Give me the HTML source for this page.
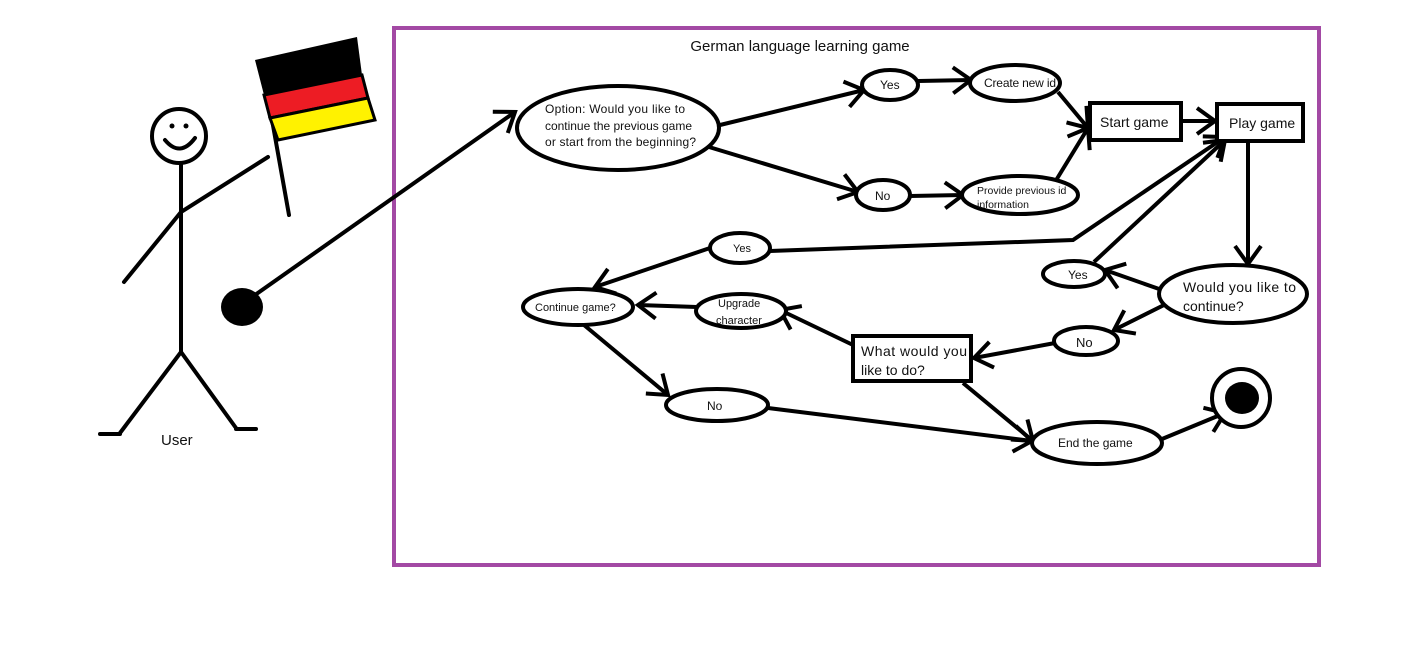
<!DOCTYPE html>
<html><head><meta charset="utf-8"><style>
html,body{margin:0;padding:0;background:#fff;}
svg{display:block;}
text{font-family:"Liberation Sans",sans-serif;fill:#111;}
</style></head><body>
<svg width="1422" height="648" viewBox="0 0 1422 648" xmlns="http://www.w3.org/2000/svg">
<defs>
<marker id="a" markerWidth="30" markerHeight="30" refX="24" refY="15" orient="auto" markerUnits="userSpaceOnUse">
<polyline points="6,2 24,15 6,28" fill="none" stroke="#000" stroke-width="4"/>
</marker>
</defs>
<rect x="394" y="28" width="925" height="537" fill="none" stroke="#a349a4" stroke-width="4"/>
<text x="800" y="51" font-size="15" text-anchor="middle">German language learning game</text>

<g stroke="#000" stroke-width="4" fill="none" stroke-linecap="round">
<circle cx="179" cy="136" r="27"/>
<path d="M165,140 Q180,158 195,138"/>
<line x1="181" y1="163" x2="181" y2="352"/>
<polyline points="124,282 181,212 268,157"/>
<polyline points="120,433 181,352 236,428"/>
<line x1="100" y1="434" x2="120" y2="434"/>
<line x1="236" y1="429" x2="256" y2="429"/>
<line x1="264" y1="75" x2="289" y2="215"/>
</g>
<circle cx="172" cy="126" r="2.5" fill="#000"/><circle cx="186" cy="126" r="2.5" fill="#000"/>
<text x="161" y="445" font-size="15">User</text>
<polygon points="255,60 357,37 362,75 264,95" fill="#000"/>
<polygon points="264,95 362,75 368,98 270,118" fill="#ed1c24" stroke="#000" stroke-width="3"/>
<polygon points="270,118 368,98 375,120 278,140" fill="#fff200" stroke="#000" stroke-width="3"/>

<ellipse cx="242" cy="307" rx="21" ry="19" fill="#000"/>

<g stroke="#000" stroke-width="4" fill="none">
<line x1="255" y1="295" x2="515" y2="112" marker-end="url(#a)"/>
<line x1="720" y1="125" x2="864" y2="90" marker-end="url(#a)"/>
<line x1="709" y1="147" x2="858" y2="192" marker-end="url(#a)"/>
<line x1="918" y1="81" x2="971" y2="80" marker-end="url(#a)"/>
<line x1="910" y1="196" x2="963" y2="195" marker-end="url(#a)"/>
<line x1="1058" y1="92" x2="1088" y2="128" marker-end="url(#a)"/>
<line x1="1055" y1="182" x2="1088" y2="128" marker-end="url(#a)"/>
<line x1="1181" y1="121" x2="1215" y2="121" marker-end="url(#a)"/>
<line x1="1248" y1="141" x2="1248" y2="264" marker-end="url(#a)"/>
<polyline points="770,251 1073,240 1225,137" marker-end="url(#a)"/>
<line x1="1094" y1="262" x2="1225" y2="140" marker-end="url(#a)"/>
<line x1="1162" y1="290" x2="1105" y2="270" marker-end="url(#a)"/>
<line x1="1170" y1="302" x2="1114" y2="330" marker-end="url(#a)"/>
<line x1="1055" y1="343" x2="974" y2="358" marker-end="url(#a)"/>
<line x1="853" y1="345" x2="780" y2="310" marker-end="url(#a)"/>
<line x1="697" y1="307" x2="638" y2="305" marker-end="url(#a)"/>
<line x1="710" y1="248" x2="595" y2="287" marker-end="url(#a)"/>
<line x1="584" y1="325" x2="668" y2="395" marker-end="url(#a)"/>
<line x1="768" y1="408" x2="1032" y2="441" marker-end="url(#a)"/>
<line x1="963" y1="383" x2="1033" y2="441" marker-end="url(#a)"/>
<line x1="1162" y1="439" x2="1225" y2="413" marker-end="url(#a)"/>
</g>

<g stroke="#000" stroke-width="4" fill="#fff">
<ellipse cx="618" cy="128" rx="101" ry="42"/>
<ellipse cx="890" cy="85" rx="28" ry="15"/>
<ellipse cx="1015" cy="83" rx="45" ry="18"/>
<ellipse cx="883" cy="195" rx="27" ry="15"/>
<ellipse cx="1020" cy="195" rx="58" ry="19"/>
<rect x="1090" y="103" width="91" height="37"/>
<rect x="1217" y="104" width="86" height="37"/>
<ellipse cx="1233" cy="294" rx="74" ry="29"/>
<ellipse cx="1074" cy="274" rx="31" ry="13"/>
<ellipse cx="1086" cy="341" rx="32" ry="14"/>
<rect x="853" y="336" width="118" height="45"/>
<ellipse cx="741" cy="311" rx="45" ry="17"/>
<ellipse cx="578" cy="307" rx="55" ry="18"/>
<ellipse cx="740" cy="248" rx="30" ry="15"/>
<ellipse cx="717" cy="405" rx="51" ry="16"/>
<ellipse cx="1097" cy="443" rx="65" ry="21"/>
<circle cx="1241" cy="398" r="29"/>
</g>
<ellipse cx="1242" cy="398" rx="17" ry="16" fill="#000"/>

<g font-size="12">
<text x="545" y="113" textLength="140">Option: Would you like to</text>
<text x="545" y="130" textLength="147">continue the previous game</text>
<text x="545" y="146" textLength="151">or start from the beginning?</text>
<text x="880" y="89">Yes</text>
<text x="984" y="87" textLength="72">Create new id</text>
<text x="875" y="200">No</text>
<text x="977" y="194" font-size="10.5">Provide previous id</text>
<text x="977" y="208" font-size="10.5">information</text>
<text x="733" y="252" font-size="11">Yes</text>
<text x="535" y="311" font-size="11">Continue game?</text>
<text x="718" y="307" font-size="11">Upgrade</text>
<text x="716" y="324" font-size="11">character</text>
<text x="1068" y="279">Yes</text>
<text x="1076" y="347" font-size="13">No</text>
<text x="707" y="410">No</text>
<text x="1058" y="447">End the game</text>
</g>
<g font-size="14">
<text x="1100" y="127">Start game</text>
<text x="1229" y="128">Play game</text>
<text x="1183" y="292" textLength="113">Would you like to</text>
<text x="1183" y="311">continue?</text>
<text x="861" y="356" textLength="106">What would you</text>
<text x="861" y="375">like to do?</text>
</g>
</svg>
</body></html>
